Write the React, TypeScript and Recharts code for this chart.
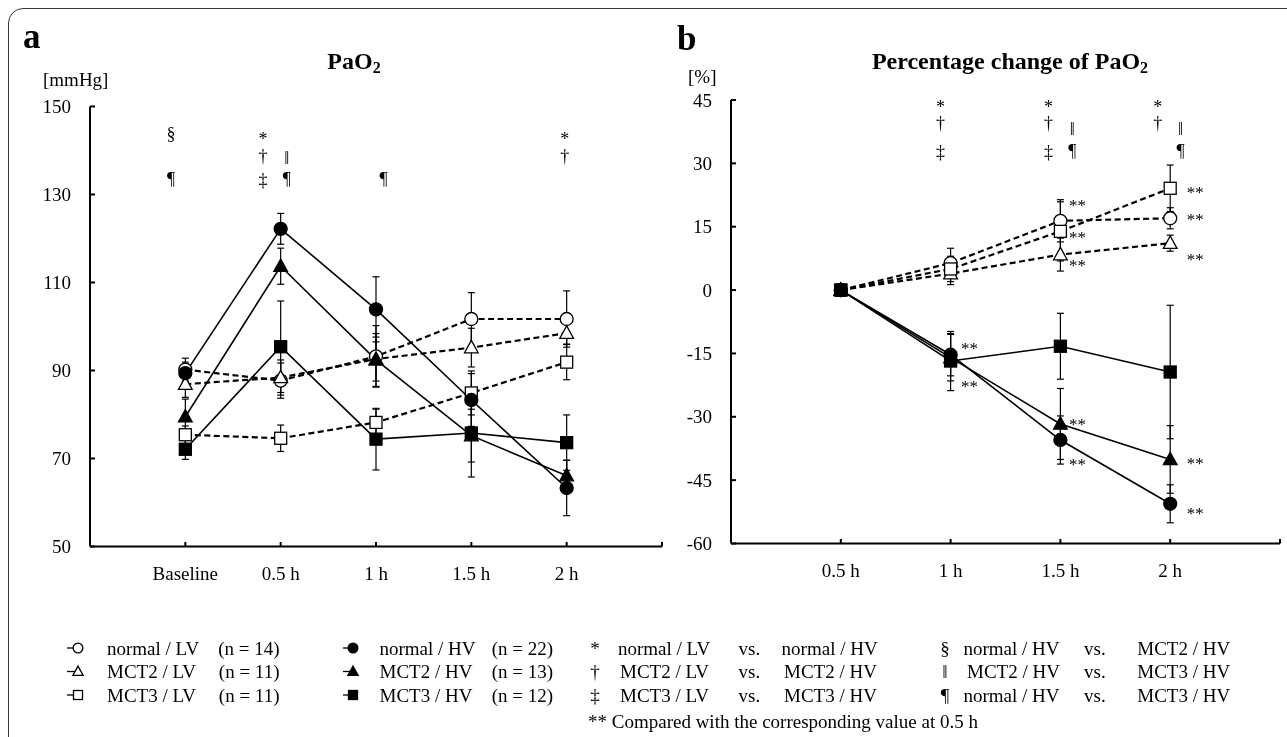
import React from 'react';
import { LineChart, Line, XAxis, YAxis, ErrorBar, ReferenceDot } from 'recharts';

const FONT = '"Liberation Serif", "Times New Roman", Times, serif';

// ---------- categories ----------
const catsA = ['Baseline', '0.5 h', '1 h', '1.5 h', '2 h'];
const catsB = ['0.5 h', '1 h', '1.5 h', '2 h'];
const ticksA = [50, 70, 90, 110, 130, 150];
const ticksB = [-60, -45, -30, -15, 0, 15, 30, 45];

// ---------- panel a : PaO2 [mmHg] ----------
const aNormalLV = [90.2, 87.7, 93.2, 101.7, 101.7];
const aNormalLVErr = [2.6, 4.0, 7.0, 6.0, 6.4];
const aMct2LV = [86.9, 88.4, 92.6, 95.2, 98.5];
const aMct2LVErr = [3.0, 4.0, 5.0, 4.4, 2.5];
const aMct3LV = [75.4, 74.6, 78.2, 84.9, 91.9];
const aMct3LVErr = [2.0, 3.0, 3.0, 5.0, 4.0];
const aNormalHV = [89.4, 122.2, 103.9, 83.3, 63.3];
const aNormalHVErr = [2.5, 3.5, 7.4, 6.0, 6.3];
const aMct2HV = [79.5, 113.7, 92.4, 75.2, 66.1];
const aMct2HVErr = [4.0, 4.1, 6.0, 6.0, 3.5];
const aMct3HV = [72.1, 95.4, 74.4, 75.8, 73.6];
const aMct3HVErr = [2.3, 10.4, 7.0, 10.0, 6.3];

// ---------- panel b : percentage change [%] ----------
const bNormalLV = [0, 6.4, 16.4, 17.0];
const bNormalLVErr = [0, 3.5, 5.0, 2.5];
const bMct2LV = [0, 3.9, 8.4, 11.1];
const bMct2LVErr = [0, 2.6, 3.9, 1.9];
const bMct3LV = [0, 5.0, 13.9, 24.1];
const bMct3LVErr = [0, 3.0, 7.0, 5.5];
const bNormalHV = [0, -15.3, -35.5, -50.6];
const bNormalHVErr = [0, 5.0, 5.7, 4.5];
const bMct2HV = [0, -16.0, -31.7, -40.1];
const bMct2HVErr = [0, 5.5, 8.4, 8.0];
const bMct3HV = [0, -16.8, -13.3, -19.4];
const bMct3HVErr = [0, 7.0, 7.8, 15.8];

// ---------- significance marks (x in axis units, y = text baseline in data units) ----------
const symA = [
  { x: 0.85, y: 142.4, t: '§' },
  { x: 0.85, y: 132.2, t: '¶' },
  { x: 1.815, y: 141.2, t: '*' },
  { x: 1.815, y: 137.5, t: '†' },
  { x: 1.815, y: 132.0, t: '‡' },
  { x: 2.065, y: 136.9, t: '‖' },
  { x: 2.065, y: 132.2, t: '¶' },
  { x: 3.08, y: 132.2, t: '¶' },
  { x: 4.98, y: 141.2, t: '*' },
  { x: 4.98, y: 137.5, t: '†' },
];
const symB = [
  { x: 1.907, y: 42.0, t: '*' },
  { x: 1.907, y: 38.1, t: '†' },
  { x: 1.907, y: 31.3, t: '‡' },
  { x: 2.892, y: 42.0, t: '*' },
  { x: 2.892, y: 38.1, t: '†' },
  { x: 2.892, y: 31.3, t: '‡' },
  { x: 3.109, y: 36.7, t: '‖' },
  { x: 3.109, y: 31.6, t: '¶' },
  { x: 3.887, y: 42.0, t: '*' },
  { x: 3.887, y: 38.1, t: '†' },
  { x: 4.094, y: 36.7, t: '‖' },
  { x: 4.094, y: 31.6, t: '¶' },
];
const starsB = [
  { x: 2.095, y: -15.25 },
  { x: 2.095, y: -24.1 },
  { x: 3.078, y: 18.7 },
  { x: 3.078, y: 11.2 },
  { x: 3.078, y: 4.5 },
  { x: 3.078, y: -33.1 },
  { x: 3.078, y: -42.5 },
  { x: 4.15, y: 21.8 },
  { x: 4.15, y: 15.5 },
  { x: 4.15, y: 6.05 },
  { x: 4.15, y: -42.4 },
  { x: 4.15, y: -54.3 },
];

type Shape = 'circle' | 'triangle' | 'square';
interface SeriesDef { key: string; name: string; n: string; shape: Shape; filled: boolean; dashed: boolean; }
const series: SeriesDef[] = [
  { key: 'nLV', name: 'normal / LV', n: '(n = 14)', shape: 'circle', filled: false, dashed: true },
  { key: 'm2LV', name: 'MCT2 / LV', n: '(n = 11)', shape: 'triangle', filled: false, dashed: true },
  { key: 'm3LV', name: 'MCT3 / LV', n: '(n = 11)', shape: 'square', filled: false, dashed: true },
  { key: 'nHV', name: 'normal / HV', n: '(n = 22)', shape: 'circle', filled: true, dashed: false },
  { key: 'm2HV', name: 'MCT2 / HV', n: '(n = 13)', shape: 'triangle', filled: true, dashed: false },
  { key: 'm3HV', name: 'MCT3 / HV', n: '(n = 12)', shape: 'square', filled: true, dashed: false },
];

const valsA: Record<string, number[][]> = {
  nLV: [aNormalLV, aNormalLVErr], m2LV: [aMct2LV, aMct2LVErr], m3LV: [aMct3LV, aMct3LVErr],
  nHV: [aNormalHV, aNormalHVErr], m2HV: [aMct2HV, aMct2HVErr], m3HV: [aMct3HV, aMct3HVErr],
};
const valsB: Record<string, number[][]> = {
  nLV: [bNormalLV, bNormalLVErr], m2LV: [bMct2LV, bMct2LVErr], m3LV: [bMct3LV, bMct3LVErr],
  nHV: [bNormalHV, bNormalHVErr], m2HV: [bMct2HV, bMct2HVErr], m3HV: [bMct3HV, bMct3HVErr],
};

function buildRows(cats: string[], vals: Record<string, number[][]>) {
  return cats.map((c, i) => {
    const row: any = { x: i + 1, label: c };
    series.forEach((s) => {
      row[s.key] = vals[s.key][0][i];
      row[s.key + 'e'] = vals[s.key][1][i];
    });
    return row;
  });
}
const rowsA = buildRows(catsA, valsA);
const rowsB = buildRows(catsB, valsB);

function Marker({ cx, cy, shape, filled, s = 1 }: { cx: number; cy: number; shape: Shape; filled: boolean; s?: number }) {
  const fill = filled ? '#000' : '#fff';
  const sw = 1.3;
  if (shape === 'circle') return <circle cx={cx} cy={cy} r={6.5 * s} fill={fill} stroke="#000" strokeWidth={sw} />;
  if (shape === 'square') {
    const h = 6 * s;
    return <rect x={cx - h} y={cy - h} width={2 * h} height={2 * h} fill={fill} stroke="#000" strokeWidth={sw} />;
  }
  const r = 7.2 * s;
  return (
    <polygon
      points={`${cx},${cy - r} ${cx + r * 0.95},${cy + r * 0.72} ${cx - r * 0.95},${cy + r * 0.72}`}
      fill={fill}
      stroke="#000"
      strokeWidth={sw}
      strokeLinejoin="miter"
    />
  );
}

const YTick = (props: any) => {
  const { x, y, payload } = props;
  return (
    <g>
      <line x1={x} y1={y} x2={x + 5} y2={y} stroke="#000" strokeWidth={2} />
      <text x={x - 19} y={y} dy="0.35em" textAnchor="end" fontSize={19} fontFamily={FONT} fill="#000">
        {payload.value}
      </text>
    </g>
  );
};

const makeXTick = (labels: string[]) => (props: any) => {
  const { x, y, payload } = props;
  const lbl = labels[payload.value - 1];
  return (
    <g>
      <line x1={x} y1={y} x2={x} y2={y - 4.5} stroke="#000" strokeWidth={2} />
      {lbl ? (
        <text x={x} y={y + 27} dy="0.35em" textAnchor="middle" fontSize={19} fontFamily={FONT} fill="#000">
          {lbl}
        </text>
      ) : null}
    </g>
  );
};

function renderSeries(order: SeriesDef[]) {
  return order.map((s) => (
    <Line
      key={s.key}
      type="linear"
      dataKey={s.key}
      stroke="#000"
      strokeWidth={s.dashed ? 2.2 : 1.6}
      strokeDasharray={s.dashed ? '6 3.5' : undefined}
      isAnimationActive={false}
      activeDot={false}
      dot={(p: any) => (
        <Marker key={`dot-${s.key}-${p.index}`} cx={p.cx} cy={p.cy} shape={s.shape} filled={s.filled} />
      )}
    >
      <ErrorBar dataKey={s.key + 'e'} width={3.5} stroke="#000" strokeWidth={1.2} direction="y" />
    </Line>
  ));
}

const symShape = (t: string, size: number, anchor: 'middle' | 'start') => (p: any) => (
  <text x={p.cx} y={p.cy} textAnchor={anchor} fontSize={size} fontFamily={FONT} fill="#000">
    {t}
  </text>
);

function PanelA() {
  return (
    <LineChart
      width={700}
      height={620}
      data={rowsA}
      margin={{ top: 106.5, left: 30, right: 38, bottom: 33.5 }}
      style={{ position: 'absolute', left: 0, top: 0 }}
    >
      <XAxis
        dataKey="x"
        type="number"
        domain={[0, 6]}
        ticks={[1, 2, 3, 4, 5, 6]}
        interval={0}
        height={40}
        tickSize={0}
        tickMargin={0}
        tickLine={false}
        axisLine={{ stroke: '#000', strokeWidth: 2 }}
        tick={makeXTick(catsA)}
      />
      <YAxis
        type="number"
        domain={[50, 150]}
        ticks={ticksA}
        interval={0}
        width={60}
        tickSize={0}
        tickMargin={0}
        tickLine={false}
        axisLine={{ stroke: '#000', strokeWidth: 2 }}
        tick={YTick}
      />
      {renderSeries(series)}
      {symA.map((m, i) => (
        <ReferenceDot key={`sa${i}`} x={m.x} y={m.y} r={0} ifOverflow="visible" shape={symShape(m.t, 18, 'middle')} />
      ))}
    </LineChart>
  );
}

function PanelB() {
  return (
    <LineChart
      width={647}
      height={620}
      data={rowsB}
      margin={{ top: 100, left: 31, right: 7, bottom: 36.5 }}
      style={{ position: 'absolute', left: 640, top: 0 }}
    >
      <XAxis
        dataKey="x"
        type="number"
        domain={[0, 5]}
        ticks={[1, 2, 3, 4, 5]}
        interval={0}
        height={40}
        tickSize={0}
        tickMargin={0}
        tickLine={false}
        axisLine={{ stroke: '#000', strokeWidth: 2 }}
        tick={makeXTick(catsB)}
      />
      <YAxis
        type="number"
        domain={[-60, 45]}
        ticks={ticksB}
        interval={0}
        width={60}
        tickSize={0}
        tickMargin={0}
        tickLine={false}
        axisLine={{ stroke: '#000', strokeWidth: 2 }}
        tick={YTick}
      />
      {renderSeries(series)}
      {symB.map((m, i) => (
        <ReferenceDot key={`sb${i}`} x={m.x} y={m.y} r={0} ifOverflow="visible" shape={symShape(m.t, 18, 'middle')} />
      ))}
      {starsB.map((m, i) => (
        <ReferenceDot key={`st${i}`} x={m.x} y={m.y} r={0} ifOverflow="visible" shape={symShape('**', 17, 'start')} />
      ))}
    </LineChart>
  );
}

const compRows = [
  { sym: '*', a: 'normal / LV', b: 'normal / HV', ax: 618, bx: 781.6 },
  { sym: '†', a: 'MCT2 / LV', b: 'MCT2 / HV', ax: 620, bx: 784 },
  { sym: '‡', a: 'MCT3 / LV', b: 'MCT3 / HV', ax: 620, bx: 784 },
];
const compRows2 = [
  { sym: '§', a: 'normal / HV', b: 'MCT2 / HV', ax: 963.4 },
  { sym: '‖', a: 'MCT2 / HV', b: 'MCT3 / HV', ax: 967 },
  { sym: '¶', a: 'normal / HV', b: 'MCT3 / HV', ax: 963.4 },
];
const rowY = [648, 671.5, 695];

function Overlay() {
  const t = { fontFamily: FONT, fontSize: 19, fill: '#000' } as const;
  const base = (i: number) => rowY[i] + 6.5;
  return (
    <svg width={1287} height={737} style={{ position: 'absolute', left: 0, top: 0, pointerEvents: 'none' }}>
      <text x={23} y={48} fontFamily={FONT} fontSize={35} fontWeight="bold">a</text>
      <text x={677} y={50} fontFamily={FONT} fontSize={35} fontWeight="bold">b</text>
      <text x={354} y={69} textAnchor="middle" fontFamily={FONT} fontSize={24} fontWeight="bold">
        PaO<tspan fontSize={16} dy={4}>2</tspan>
      </text>
      <text x={1010} y={69} textAnchor="middle" fontFamily={FONT} fontSize={24} fontWeight="bold">
        Percentage change of PaO<tspan fontSize={16} dy={4}>2</tspan>
      </text>
      <text x={43} y={86} {...t}>[mmHg]</text>
      <text x={688} y={83} {...t}>[%]</text>

      {series.slice(0, 3).map((s, i) => (
        <g key={`l1${i}`}>
          <line x1={67} y1={rowY[i]} x2={77} y2={rowY[i]} stroke="#000" strokeWidth={1.3} />
          <Marker cx={78} cy={rowY[i]} shape={s.shape} filled={s.filled} s={0.75} />
          <text x={107} y={base(i)} {...t}>{s.name}</text>
          <text x={279.5} y={base(i)} textAnchor="end" {...t}>{s.n}</text>
        </g>
      ))}
      {series.slice(3, 6).map((s, i) => (
        <g key={`l2${i}`}>
          <line x1={343} y1={rowY[i]} x2={353} y2={rowY[i]} stroke="#000" strokeWidth={1.3} />
          <Marker cx={353} cy={rowY[i]} shape={s.shape} filled={s.filled} s={0.75} />
          <text x={379.5} y={base(i)} {...t}>{s.name}</text>
          <text x={553} y={base(i)} textAnchor="end" {...t}>{s.n}</text>
        </g>
      ))}
      {compRows.map((r, i) => (
        <g key={`c1${i}`}>
          <text x={595} y={base(i)} textAnchor="middle" {...t}>{r.sym}</text>
          <text x={r.ax} y={base(i)} {...t}>{r.a}</text>
          <text x={738.5} y={base(i)} {...t}>vs.</text>
          <text x={r.bx} y={base(i)} {...t}>{r.b}</text>
        </g>
      ))}
      {compRows2.map((r, i) => (
        <g key={`c2${i}`}>
          <text x={945} y={base(i)} textAnchor="middle" {...t}>{r.sym}</text>
          <text x={r.ax} y={base(i)} {...t}>{r.a}</text>
          <text x={1084} y={base(i)} {...t}>vs.</text>
          <text x={1137.3} y={base(i)} {...t}>{r.b}</text>
        </g>
      ))}
      <text x={588} y={728} {...t}>** Compared with the corresponding value at 0.5 h</text>
    </svg>
  );
}

export default function App() {
  return (
    <div
      style={{
        position: 'fixed',
        left: 0,
        top: 0,
        width: 1287,
        height: 737,
        overflow: 'hidden',
        background: '#fff',
        fontFamily: FONT,
        filter: 'grayscale(1)',
      }}
    >
      <div
        style={{
          position: 'absolute',
          left: 8,
          top: 8,
          width: 1400,
          height: 800,
          border: '1.5px solid #3a3a3a',
          borderRadius: 15,
          boxSizing: 'border-box',
        }}
      />
      <PanelA />
      <PanelB />
      <Overlay />
    </div>
  );
}
